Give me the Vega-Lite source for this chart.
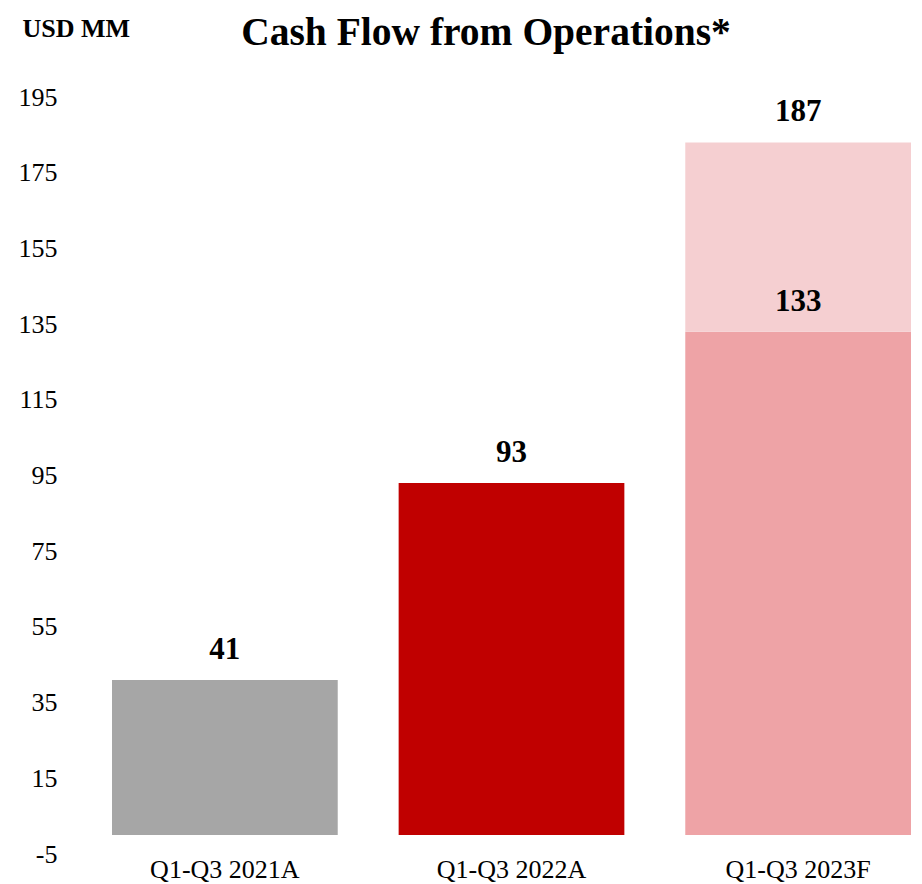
{
  "$schema": "https://vega.github.io/schema/vega-lite/v6.json",
  "width": 840,
  "height": 757,
  "autosize": {"type": "none"},
  "padding": {"left": 82, "top": 97, "right": 0, "bottom": 30},
  "background": "white",
  "config": {"view": {"stroke": null}, "font": "Liberation Serif"},
  "title": {
    "text": "Cash Flow from Operations*",
    "font": "Liberation Serif",
    "fontSize": 39.5,
    "fontWeight": "bold",
    "color": "black",
    "anchor": "middle",
    "frame": "group",
    "baseline": "alphabetic",
    "dx": -16,
    "offset": -69
  },
  "data": {
    "values": [
      {"cat": "Q1-Q3 2021A", "series": "2021A", "base": 0, "value": 41, "label": "41"},
      {"cat": "Q1-Q3 2022A", "series": "2022A", "base": 0, "value": 93, "label": "93"},
      {"cat": "Q1-Q3 2023F", "series": "2023F base", "base": 0, "value": 133, "label": "133"},
      {"cat": "Q1-Q3 2023F", "series": "2023F upside", "base": 133, "value": 183, "label": "187"}
    ]
  },
  "encoding": {
    "x": {
      "field": "cat",
      "type": "nominal",
      "sort": null,
      "scale": {"range": [30, 829], "paddingInner": 0.2125, "paddingOuter": 0},
      "axis": {
        "title": null,
        "domain": false,
        "ticks": false,
        "tickSize": 0,
        "labelAngle": 0,
        "labelPadding": 2,
        "labelFont": "Liberation Serif",
        "labelFontSize": 26,
        "labelColor": "black"
      }
    }
  },
  "layer": [
    {
      "mark": {"type": "bar"},
      "encoding": {
        "y": {
          "field": "value",
          "type": "quantitative",
          "scale": {"domain": [-5, 195], "nice": false, "zero": false},
          "axis": {
            "values": [-5, 15, 35, 55, 75, 95, 115, 135, 155, 175, 195],
            "labelExpr": "'' + datum.value",
            "grid": false,
            "domain": false,
            "ticks": false,
            "tickSize": 0,
            "labelPadding": 25,
            "labelFont": "Liberation Serif",
            "labelFontSize": 26,
            "labelColor": "black",
            "title": "USD MM",
            "titleAngle": 0,
            "titleAlign": "left",
            "titleBaseline": "middle",
            "titleX": -60,
            "titleY": -69,
            "titleFont": "Liberation Serif",
            "titleFontSize": 26,
            "titleFontWeight": "bold",
            "titleColor": "black"
          }
        },
        "y2": {"field": "base"},
        "color": {
          "field": "series",
          "type": "nominal",
          "scale": {
            "domain": ["2021A", "2022A", "2023F base", "2023F upside"],
            "range": ["#a6a6a6", "#c00000", "#eea3a6", "#f5cfd1"]
          },
          "legend": null
        }
      }
    },
    {
      "mark": {"type": "rule", "color": "#d9d9d9", "strokeWidth": 2},
      "encoding": {"y": {"datum": 0}}
    },
    {
      "mark": {
        "type": "text",
        "baseline": "middle",
        "dy": -30,
        "font": "Liberation Serif",
        "fontSize": 31,
        "fontWeight": "bold",
        "color": "black"
      },
      "encoding": {
        "y": {"field": "value", "type": "quantitative"},
        "text": {"field": "label"}
      }
    }
  ]
}
